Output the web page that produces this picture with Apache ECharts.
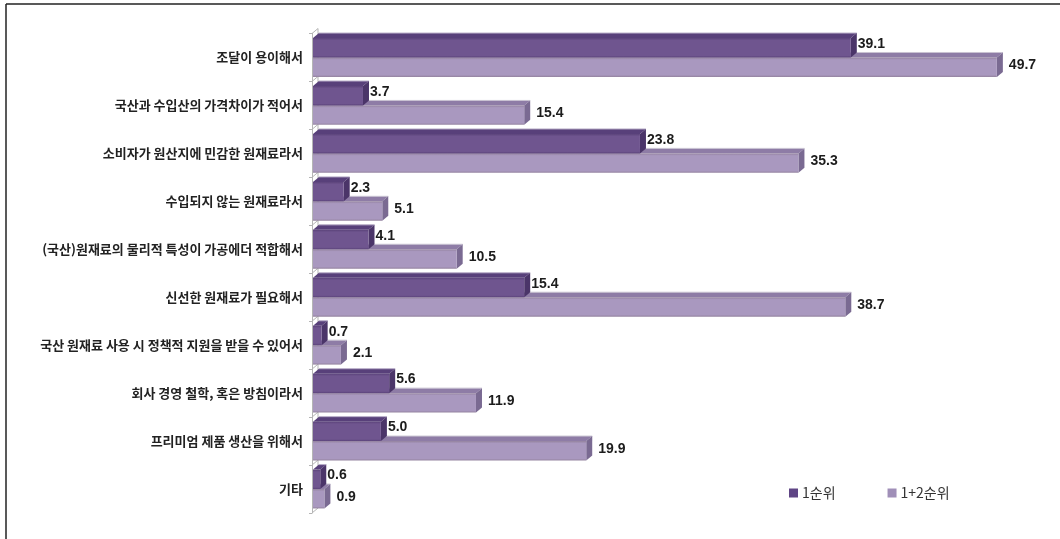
<!DOCTYPE html>
<html>
<head>
<meta charset="utf-8">
<style>html,body{margin:0;padding:0;background:#fff}#c{width:1060px;height:539px}</style>
<script src="https://cdn.jsdelivr.net/npm/echarts@6/dist/echarts.min.js"></script>
</head>
<body>
<div id="c"></div>
<script>
const categories = ['조달이 용이해서','국산과 수입산의 가격차이가 적어서','소비자가 원산지에 민감한 원재료라서','수입되지 않는 원재료라서','(국산)원재료의 물리적 특성이 가공에더 적합해서','신선한 원재료가 필요해서','국산 원재료 사용 시 정책적 지원을 받을 수 있어서','회사 경영 철학, 혹은 방침이라서','프리미엄 제품 생산을 위해서','기타'];
const rank1 = [39.1,3.7,23.8,2.3,4.1,15.4,0.7,5.6,5.0,0.6];
const rank12 = [49.7,15.4,35.3,5.1,10.5,38.7,2.1,11.9,19.9,0.9];
const name1 = '1순위';
const name12 = '1+2순위';

const DX = 6, DY = 5;
const labelFont = 'bold 14px "Liberation Sans", Arial, sans-serif';

function bar3d(colors, upper, labelDx, labelDy) {
  return function (params, api) {
    const v = api.value(1), cat = api.value(0);
    const p0 = api.coord([0, cat]), p1 = api.coord([v, cat]);
    const band = api.size([0, 1])[1];
    const h = band * 0.405;
    const x0 = p0[0] + 1, x1 = p1[0], cy = p0[1];
    const y0 = upper ? cy - h : cy, y1 = y0 + h;
    const shape = pts => ({ type: 'polygon', shape: { points: pts } });
    return {
      type: 'group',
      children: [
        Object.assign(shape([[x0, y0], [x0 + DX, y0 - DY], [x1 + DX, y0 - DY], [x1, y0]]),
          { style: { fill: colors.top } }),
        { type: 'line', shape: { x1: x0 + DX, y1: y0 - DY, x2: x1 + DX, y2: y0 - DY },
          style: { stroke: colors.rim, lineWidth: 1 } },
        Object.assign(shape([[x1, y0], [x1 + DX, y0 - DY], [x1 + DX, y1 - DY], [x1, y1]]),
          { style: { fill: colors.side } }),
        { type: 'rect', shape: { x: x0, y: y0, width: x1 - x0, height: h },
          style: { fill: { type: 'linear', x: 0, y: 0, x2: 0, y2: 1, colorStops: [
            { offset: 0, color: colors.edge }, { offset: 0.12, color: colors.face },
            { offset: 0.9, color: colors.face }, { offset: 1, color: colors.edge }] } } },
        { type: 'text', z2: 10,
          style: { x: x1 + labelDx, y: cy + labelDy, text: v.toFixed(1), font: labelFont,
                   fill: '#1c1c1c', textAlign: 'left', textVerticalAlign: 'middle' } }
      ]
    };
  };
}

function wall(params, api) {
  const cat = api.value(0);
  const p = api.coord([0, cat]);
  const band = api.size([0, 1])[1];
  const yTop = p[1] - band / 2, yBot = p[1] + band / 2;
  const st = { stroke: '#b5b5b5', lineWidth: 1 };
  const kids = [
    { type: 'line', shape: { x1: p[0], y1: yTop, x2: p[0] + DX, y2: yTop - DY }, style: st },
    { type: 'line', shape: { x1: p[0] + DX, y1: yTop - DY, x2: p[0] + DX, y2: yBot - DY }, style: st }
  ];
  if (params.dataIndex === categories.length - 1) {
    kids.push({ type: 'line', shape: { x1: p[0], y1: yBot, x2: p[0] + DX, y2: yBot - DY }, style: st });
  }
  return { type: 'group', children: kids };
}

const chart = echarts.init(document.getElementById('c'), null, { renderer: 'canvas' });
chart.setOption({
  animation: false,
  backgroundColor: '#fff',
  grid: { left: 312, top: 33.5, width: 689, height: 479.5, containLabel: false },
  legend: {
    left: 784, top: 481, itemWidth: 9, itemHeight: 9, itemGap: 52, icon: 'rect',
    data: [name1, name12],
    textStyle: { fontFamily: '"Noto Sans CJK KR"', fontSize: 14, color: '#333', padding: [0, 0, 0, -1] }
  },
  xAxis: { type: 'value', min: 0, max: 50, show: false },
  yAxis: {
    type: 'category', inverse: true, data: categories,
    axisLine: { show: true, lineStyle: { color: '#b5b5b5', width: 1 } },
    axisTick: { show: true, length: 3, lineStyle: { color: '#b5b5b5' } },
    axisLabel: { margin: 9, fontFamily: '"Noto Sans CJK KR"', fontWeight: 'bold', fontSize: 13, color: '#222', interval: 0 }
  },
  graphic: [
    { type: 'line', shape: { x1: 6, y1: 4, x2: 1060, y2: 4 }, style: { stroke: '#222', lineWidth: 1.5 }, silent: true },
    { type: 'line', shape: { x1: 6, y1: 4, x2: 6, y2: 539 }, style: { stroke: '#222', lineWidth: 1.5 }, silent: true }
  ],
  series: [
    { type: 'custom', name: 'wall', silent: true, z: 1,
      data: categories.map((c, i) => [i, 0]), encode: { x: 1, y: 0 }, renderItem: wall },
    { type: 'custom', name: name12, z: 2, itemStyle: { color: '#a08fb8' },
      data: rank12.map((v, i) => [i, v]), encode: { x: 1, y: 0 },
      renderItem: bar3d({ top: '#8e7ca6', rim: '#c9c3d2', side: '#7a6a92', face: '#a998bf', edge: '#94839f' }, false, 12, 8) },
    { type: 'custom', name: name1, z: 3, itemStyle: { color: '#5f4585' },
      data: rank1.map((v, i) => [i, v]), encode: { x: 1, y: 0 },
      renderItem: bar3d({ top: '#58407a', rim: '#b9aec9', side: '#4b3569', face: '#6f558f', edge: '#5b437a' }, true, 7, -13.5) }
  ]
});
</script>
</body>
</html>
